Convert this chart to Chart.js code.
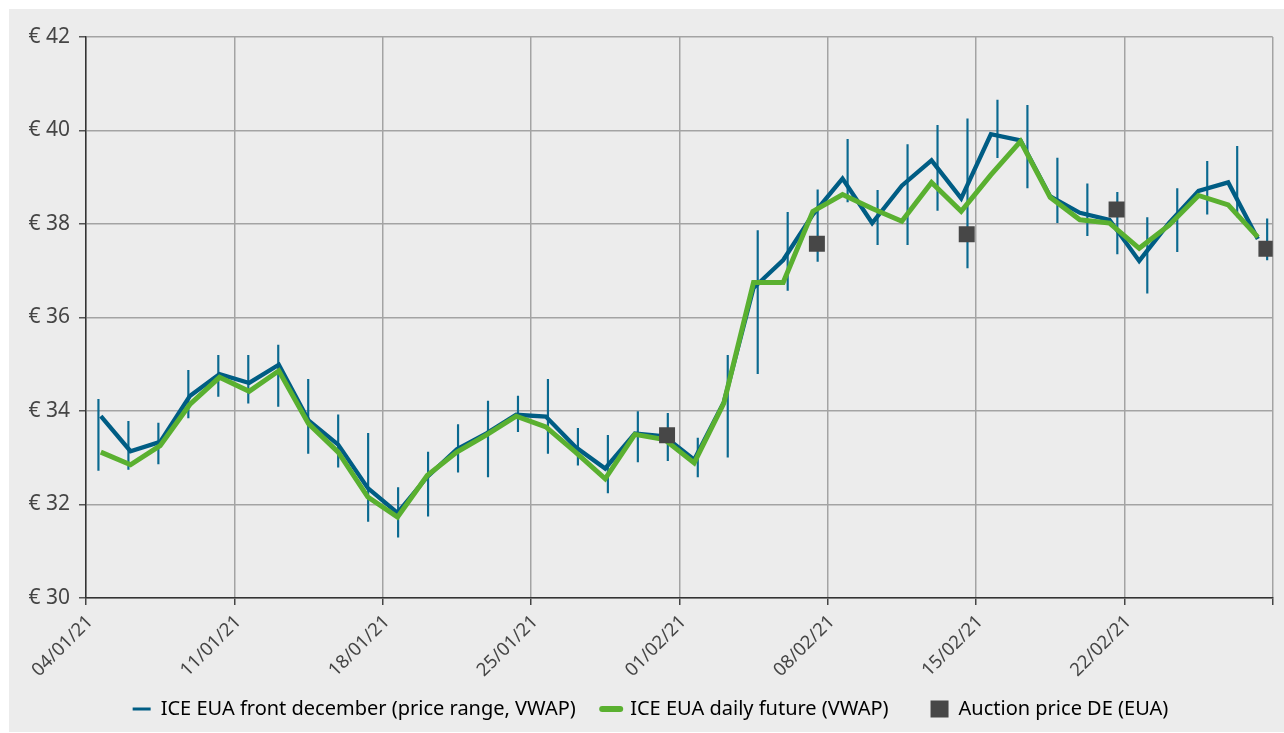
<!DOCTYPE html>
<html>
<head>
<meta charset="utf-8">
<script src="https://cdn.jsdelivr.net/npm/chart.js@4.4.1/dist/chart.umd.min.js"></script>
<style>
  body { margin: 0; background: #ffffff; }
  #box { position: absolute; left: 9px; top: 9px; width: 1275px; height: 723px; background: #ececec; }
</style>
</head>
<body>
<div id="box"><canvas id="grafica"></canvas></div>
<script>
// trading days 04/01/21 - 26/02/21
const dies = [
  "04/01/21","05/01/21","06/01/21","07/01/21","08/01/21",
  "11/01/21","12/01/21","13/01/21","14/01/21","15/01/21",
  "18/01/21","19/01/21","20/01/21","21/01/21","22/01/21",
  "25/01/21","26/01/21","27/01/21","28/01/21","29/01/21",
  "01/02/21","02/02/21","03/02/21","04/02/21","05/02/21",
  "08/02/21","09/02/21","10/02/21","11/02/21","12/02/21",
  "15/02/21","16/02/21","17/02/21","18/02/21","19/02/21",
  "22/02/21","23/02/21","24/02/21","25/02/21","26/02/21"
];
const setmanes = ["04/01/21","11/01/21","18/01/21","25/01/21","01/02/21","08/02/21","15/02/21","22/02/21",""];

const frontDec = [33.89,33.14,33.34,34.32,34.79,34.60,34.99,33.80,33.28,32.35,
                  31.82,32.59,33.18,33.52,33.92,33.88,33.23,32.77,33.52,33.46,
                  32.96,34.19,36.63,37.23,38.20,38.97,38.02,38.82,39.36,38.55,
                  39.92,39.79,38.59,38.24,38.09,37.21,38.02,38.71,38.89,37.68];
const frontHigh = [34.25,33.78,33.74,34.87,35.19,35.19,35.41,34.68,33.92,33.52,
                   32.36,33.12,33.71,34.21,34.32,34.68,33.63,33.48,33.99,33.95,
                   33.42,35.19,37.86,38.25,38.73,39.81,38.72,39.70,40.11,40.25,
                   40.65,40.54,39.41,38.86,38.68,38.14,38.76,39.34,39.66,38.11];
const frontLow = [32.73,32.75,32.87,33.85,34.31,34.17,34.10,33.09,32.80,31.64,
                  31.30,31.75,32.69,32.59,33.56,33.09,32.84,32.25,32.91,32.94,
                  32.59,33.01,34.80,36.58,37.20,38.47,37.56,37.56,38.29,37.06,
                  39.42,38.77,38.03,37.75,37.36,36.52,37.41,38.21,38.15,37.23];
const dailyFut = [33.12,32.85,33.26,34.14,34.72,34.42,34.86,33.73,33.12,32.16,
                  31.73,32.62,33.12,33.49,33.89,33.66,33.12,32.55,33.50,33.39,
                  32.89,34.17,36.75,36.75,38.27,38.63,38.33,38.06,38.89,38.27,
                  39.05,39.77,38.57,38.09,38.02,37.48,37.97,38.61,38.41,37.72];
const subhasta = [null,null,null,null,null,null,null,null,null,null,
                  null,null,null,null,null,null,null,null,null,33.48,
                  null,null,null,null,37.58,null,null,null,null,37.78,
                  null,null,null,null,38.31,null,null,null,null,37.47];

const yTicks = [30, 32, 34, 36, 38, 40, 42];

const blau = "#005d84";
const verd = "#5ab030";
const gris = "#474747";

Chart.defaults.font.family = "Noto Sans";
Chart.defaults.font.size = 20;
Chart.defaults.color = "#454545";

const data = {
  datasets: [
    {
      label: "ICE EUA front december (price range, VWAP)",
      type: "line",
      data: frontDec.map((v, i) => ({ x: i, y: v })),
      borderColor: blau,
      borderWidth: 4.3,
      pointRadius: 0,
      order: 3
    },
    {
      label: "ICE EUA daily future (VWAP)",
      type: "line",
      data: dailyFut.map((v, i) => ({ x: i, y: v })),
      borderColor: verd,
      borderWidth: 5,
      pointRadius: 0,
      order: 2
    },
    {
      label: "Auction price DE (EUA)",
      type: "line",
      xAxisID: "x2",
      data: subhasta.map((v, i) => ({ x: i, y: v })),
      showLine: false,
      pointStyle: "rect",
      pointRadius: 11.3,
      pointBackgroundColor: gris,
      pointBorderWidth: 0,
      order: 1
    },
    {
      label: "range",
      type: "bar",
      xAxisID: "x2",
      data: frontLow.map((v, i) => ({ x: i, y: [v, frontHigh[i]] })),
      backgroundColor: "#0a6990",
      barThickness: 1.5,
      order: 4
    }
  ]
};

const config = {
  type: "line",
  data: data,
  options: {
    responsive: true,
    maintainAspectRatio: false,
    animation: false,
    layout: { padding: { top: 28, right: 10, bottom: 3, left: 18 } },
    plugins: {
      tooltip: { enabled: false },
      legend: {
        position: "bottom",
        labels: {
          usePointStyle: true,
          pointStyleWidth: 18,
          boxHeight: 17,
          padding: 16,
          color: "#454545",
          font: { size: 20 },
          generateLabels: () => [
            { text: data.datasets[0].label + "  ", pointStyle: "line", strokeStyle: blau, fillStyle: blau, lineWidth: 3, datasetIndex: 0 },
            { text: data.datasets[1].label + "     ", pointStyle: "line", strokeStyle: verd, fillStyle: verd, lineWidth: 6, lineCap: "round", datasetIndex: 1 },
            { text: data.datasets[2].label, pointStyle: "rect", strokeStyle: gris, fillStyle: gris, lineWidth: 0, datasetIndex: 2 }
          ]
        }
      }
    },
    scales: {
      x: {
        type: "linear",
        min: -0.5,
        max: 39.5,
        offset: false,
        afterBuildTicks: (axis) => {
          axis.ticks = setmanes.map((s, k) => ({ value: k * 5 - 0.5 }));
        },
        afterFit: (axis) => { axis.height = 85; axis.paddingRight = 0; },
        ticks: {
          autoSkip: false,
          minRotation: 45,
          maxRotation: 45,
          padding: 6,
          labelOffset: 4,
          font: { size: 18.5 },
          callback: (v, i) => setmanes[i]
        },
        grid: { color: "#a3a3a3", lineWidth: 1.5, tickColor: "#444444", tickLength: 7 },
        border: { color: "#333333", width: 1.5 }
      },
      x2: {
        type: "linear",
        display: false,
        offset: false,
        min: -0.39,
        max: 39.21
      },
      y: {
        min: 30,
        max: 42,
        afterBuildTicks: (axis) => {
          axis.ticks = yTicks.map(v => ({ value: v }));
        },
        afterFit: (axis) => { axis.width = 59; },
        ticks: {
          padding: 9,
          font: { size: 21 },
          callback: (v) => "€ " + v
        },
        grid: { color: "#a3a3a3", lineWidth: 1.5, tickColor: "#555555", tickLength: 7 },
        border: { color: "#333333", width: 1.5 }
      }
    }
  }
};

const grafica = document.getElementById("grafica");
let myChart = new Chart(grafica, config);
</script>
</body>
</html>
